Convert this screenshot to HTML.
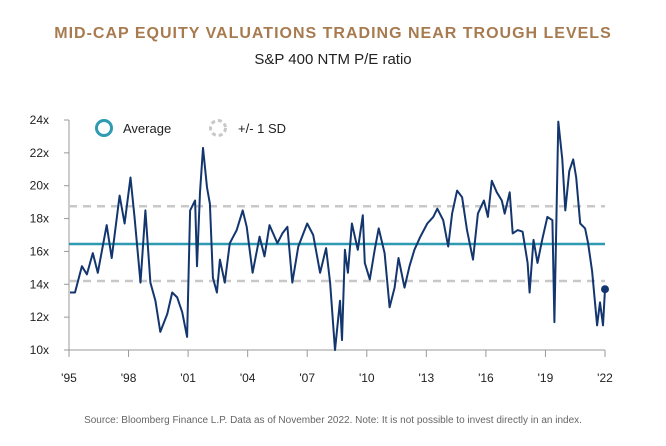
<!DOCTYPE html>
<html><head><meta charset="utf-8"><style>
body{margin:0;background:#fff;width:666px;height:441px;overflow:hidden;font-family:"Liberation Sans",sans-serif}
</style></head><body>
<svg width="666" height="441" viewBox="0 0 666 441">
<text x="333" y="38" text-anchor="middle" font-size="16" font-weight="bold" fill="#a77b4f" letter-spacing="1">MID-CAP EQUITY VALUATIONS TRADING NEAR TROUGH LEVELS</text>
<text x="333" y="64" text-anchor="middle" font-size="15" fill="#222">S&amp;P 400 NTM P/E ratio</text>
<g id="axes"></g>
<g id="plot"></g>
<circle cx="104" cy="128" r="7.5" fill="none" stroke="#2e9bb3" stroke-width="3"/>
<text x="123" y="133" font-size="13" fill="#222">Average</text>
<circle cx="218" cy="128" r="7.5" fill="none" stroke="#c8c8c8" stroke-width="3" stroke-dasharray="4 3"/>
<text x="238" y="133" font-size="13" fill="#222">+/- 1 SD</text>
<text x="333" y="423" text-anchor="middle" font-size="10" fill="#666">Source: Bloomberg Finance L.P. Data as of November 2022. Note: It is not possible to invest directly in an index.</text>
</svg>
<script>
const yTicks=[10,12,14,16,18,20,22,24];
const xTickYears=[1995,1998,2001,2004,2007,2010,2013,2016,2019,2022];
const xTickLabels=["'95","'98","'01","'04","'07","'10","'13","'16","'19","'22"];
const averageValue=16.45;
const sdBands=[18.75,14.2];
const years=[1995.05,1995.3,1995.65,1995.9,1996.2,1996.45,1996.9,1997.15,1997.55,1997.8,1998.1,1998.3,1998.6,1998.85,1999.1,1999.35,1999.6,1999.95,2000.2,2000.45,2000.7,2000.95,2001.1,2001.35,2001.45,2001.6,2001.75,2001.95,2002.1,2002.25,2002.45,2002.6,2002.85,2003.1,2003.45,2003.75,2003.95,2004.25,2004.6,2004.85,2005.1,2005.5,2005.75,2006.0,2006.25,2006.55,2007.0,2007.3,2007.65,2007.95,2008.15,2008.4,2008.65,2008.75,2008.9,2009.05,2009.25,2009.55,2009.8,2009.9,2010.15,2010.4,2010.6,2010.9,2011.15,2011.4,2011.6,2011.9,2012.15,2012.4,2012.7,2013.05,2013.35,2013.55,2013.85,2014.1,2014.3,2014.55,2014.8,2015.05,2015.35,2015.6,2015.9,2016.1,2016.3,2016.55,2016.8,2016.95,2017.2,2017.35,2017.6,2017.85,2018.1,2018.2,2018.4,2018.6,2018.85,2019.1,2019.35,2019.45,2019.65,2019.85,2020.0,2020.2,2020.4,2020.55,2020.75,2021.0,2021.15,2021.35,2021.6,2021.75,2021.9,2022.0];
const peValues=[13.5,13.5,15.1,14.6,15.9,14.7,17.6,15.6,19.4,17.7,20.5,18.1,14.1,18.5,14.1,13.0,11.1,12.2,13.5,13.2,12.3,10.8,18.5,19.1,15.1,19.6,22.3,19.9,18.9,14.4,13.5,15.5,14.1,16.5,17.3,18.5,17.5,14.7,16.9,15.7,17.6,16.5,17.1,17.5,14.1,16.3,17.7,17.0,14.7,16.2,14.1,10.0,13.0,10.6,16.1,14.7,17.7,16.1,18.2,15.3,14.3,16.1,17.4,15.9,12.6,13.8,15.6,13.8,15.1,16.1,16.9,17.7,18.1,18.6,17.9,16.3,18.3,19.7,19.3,17.3,15.5,18.3,19.1,18.1,20.3,19.6,19.1,18.3,19.6,17.1,17.3,17.2,15.3,13.5,16.7,15.3,16.8,18.1,17.9,11.7,23.9,21.6,18.5,20.9,21.6,20.5,17.7,17.4,16.5,14.8,11.5,12.9,11.5,13.7];
const X0=69,X1=605,Y0=350,Y1=120;
const xs=y=>X0+(y-1995)*(X1-X0)/27;
const ys=v=>Y0-(v-10)*(Y0-Y1)/14;
const NS="http://www.w3.org/2000/svg";
function mk(t,a,p){const e=document.createElementNS(NS,t);for(const k in a)e.setAttribute(k,a[k]);p.appendChild(e);return e;}
const ax=document.getElementById('axes'),pl=document.getElementById('plot');
let yl=mk('line',{x1:X0,x2:X0,y1:Y1,y2:Y0,stroke:'#999','stroke-width':1},ax);


let xl=mk('line',{x1:X0,x2:X1,y1:Y0,y2:Y0,stroke:'#999','stroke-width':1},ax);


yTicks.forEach(v=>{
 let t=mk('line',{x1:X0-5,x2:X0,y1:ys(v),y2:ys(v),stroke:'#999'},ax);
 
 
 let l=mk('text',{x:49,y:ys(v)+4,'text-anchor':'end','font-size':12,fill:'#222'},ax);l.textContent=v+'x';
 
 
});
xTickYears.forEach((y,i)=>{
 let t=mk('line',{x1:xs(y),x2:xs(y),y1:Y0,y2:Y0+7,stroke:'#999'},ax);
 
 
 let l=mk('text',{x:xs(y),y:Y0+32,'text-anchor':'middle','font-size':12,fill:'#222'},ax);l.textContent=xTickLabels[i];
 
 
});
sdBands.forEach(v=>{
 let l=mk('line',{x1:X0,x2:X1,y1:ys(v),y2:ys(v),stroke:'#c8c8c8','stroke-width':2.5,'stroke-dasharray':'8 6'},pl);
 
 
});
let av=mk('line',{x1:X0,x2:X1,y1:ys(averageValue),y2:ys(averageValue),stroke:'#2e9bb3','stroke-width':2.5},pl);


let d=years.map((y,i)=>(i?'L':'M')+xs(y).toFixed(1)+' '+ys(peValues[i]).toFixed(1)).join(' ');
let p=mk('path',{d:d,fill:'none',stroke:'#14366e','stroke-width':2,'stroke-linejoin':'round'},pl);


const n=years.length-1;
let dot=mk('circle',{cx:xs(years[n]),cy:ys(peValues[n]),r:4,fill:'#14366e'},pl);


</script>
</body></html>
